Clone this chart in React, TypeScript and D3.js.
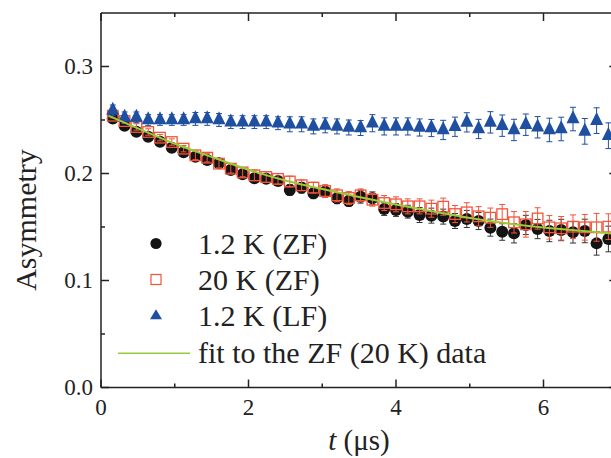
import React from "react";
import * as d3 from "d3";

// time bins (µs)
const tValues = [
  0.16, 0.32, 0.48, 0.64, 0.80, 0.96, 1.12, 1.28, 1.44, 1.60, 1.76, 1.92, 2.08, 2.24, 2.40,
  2.56, 2.72, 2.88, 3.04, 3.20, 3.36, 3.52, 3.68, 3.84, 4.00, 4.16, 4.32, 4.48, 4.64, 4.80,
  4.96, 5.12, 5.28, 5.44, 5.60, 5.76, 5.92, 6.08, 6.24, 6.40, 6.56, 6.72, 6.88,
];

// 1.2 K (ZF)
const zf12 = [
  0.2515, 0.2447, 0.2391, 0.2344, 0.2297, 0.2241, 0.2198, 0.2157, 0.2126, 0.2095, 0.2033, 0.1993, 0.1955, 0.1950, 0.1930,
  0.1846, 0.1867, 0.1815, 0.1830, 0.1768, 0.1743, 0.1783, 0.1768, 0.1668, 0.1659, 0.1643, 0.1612, 0.1606, 0.1597, 0.1556,
  0.1575, 0.1556, 0.1494, 0.1456, 0.1441, 0.1519, 0.1481, 0.1463, 0.1472, 0.1450, 0.1463, 0.1347, 0.1388,
];
const zf12Err = [
  0.002, 0.002, 0.002, 0.003, 0.003, 0.003, 0.003, 0.003, 0.003, 0.004, 0.004, 0.004, 0.004, 0.004, 0.004,
  0.005, 0.005, 0.005, 0.005, 0.005, 0.005, 0.006, 0.006, 0.006, 0.006, 0.006, 0.007, 0.007, 0.007, 0.007,
  0.008, 0.008, 0.008, 0.008, 0.009, 0.009, 0.009, 0.010, 0.010, 0.010, 0.011, 0.011, 0.012,
];

// 20 K (ZF)
const zf20 = [
  0.2540, 0.2490, 0.2435, 0.2388, 0.2335, 0.2294, 0.2232, 0.2170, 0.2148, 0.2092, 0.2045, 0.2010, 0.1983, 0.1967, 0.1950,
  0.1925, 0.1890, 0.1868, 0.1836, 0.1796, 0.1771, 0.1796, 0.1755, 0.1724, 0.1712, 0.1693, 0.1693, 0.1671, 0.1690, 0.1621,
  0.1637, 0.1600, 0.1587, 0.1620, 0.1544, 0.1525, 0.1580, 0.1497, 0.1488, 0.1503, 0.1497, 0.1497, 0.1503,
];
const zf20Err = [
  0.002, 0.002, 0.003, 0.003, 0.003, 0.003, 0.003, 0.004, 0.004, 0.004, 0.004, 0.004, 0.005, 0.005, 0.005,
  0.005, 0.005, 0.005, 0.006, 0.006, 0.006, 0.006, 0.006, 0.007, 0.007, 0.007, 0.007, 0.008, 0.008, 0.008,
  0.009, 0.009, 0.009, 0.009, 0.010, 0.012, 0.010, 0.011, 0.011, 0.011, 0.012, 0.013, 0.012,
];

// 1.2 K (LF)
const lf12 = [
  0.2590, 0.2525, 0.2525, 0.2500, 0.2500, 0.2500, 0.2500, 0.2510, 0.2510, 0.2500, 0.2480, 0.2480, 0.2480, 0.2480, 0.2470,
  0.2460, 0.2460, 0.2440, 0.2450, 0.2440, 0.2430, 0.2425, 0.2470, 0.2440, 0.2440, 0.2440, 0.2430, 0.2425, 0.2407, 0.2437,
  0.2478, 0.2416, 0.2478, 0.2447, 0.2407, 0.2456, 0.2432, 0.2407, 0.2416, 0.2509, 0.2394, 0.2494, 0.2353,
];
const lf12Err = [
  0.005, 0.005, 0.005, 0.005, 0.005, 0.005, 0.005, 0.006, 0.006, 0.006, 0.006, 0.006, 0.006, 0.006, 0.006,
  0.007, 0.007, 0.007, 0.007, 0.007, 0.007, 0.007, 0.008, 0.008, 0.008, 0.008, 0.008, 0.008, 0.009, 0.009,
  0.009, 0.009, 0.010, 0.010, 0.010, 0.010, 0.010, 0.011, 0.011, 0.011, 0.012, 0.012, 0.012,
];

// fit to the ZF (20 K) data
const fitT = [0.1, 0.5, 1.0, 1.5, 2.0, 2.5, 3.0, 3.5, 4.0, 4.5, 5.0, 5.5, 6.0, 6.5, 7.0];
const fitY = [0.254, 0.2422, 0.2278, 0.2155, 0.2035, 0.1935, 0.1855, 0.178, 0.171, 0.1645, 0.1585, 0.1535, 0.1495, 0.1465, 0.1435];

const xMajor = [0, 2, 4, 6];
const xMinor = [1, 3, 5, 7];
const yMajor = [0, 0.1, 0.2, 0.3];
const yMinor = [0.05, 0.15, 0.25];

const legendLabels = ["1.2 K (ZF)", "20 K (ZF)", "1.2 K (LF)", "fit to the ZF (20 K) data"];

const W = 611;
const H = 458;
const FONT = "Liberation Serif, Times New Roman, DejaVu Serif, serif";
const C_BLACK = "#141414";
const C_RED = "#f2553a";
const C_BLUE = "#1f4fa0";
const C_GREEN = "#96cb3a";
const TXT = { fontFamily: FONT } as const;

export default function App() {
  const x = d3.scaleLinear().domain([0, 7]).range([101, 617.25]);
  const y = d3.scaleLinear().domain([0, 0.35]).range([387.5, 13]);
  const x0 = x.range()[0];
  const x1 = x.range()[1];
  const y0 = y.range()[0];
  const y1 = y.range()[1];

  const fitLine = d3
    .line<number>()
    .x((_, i) => x(fitT[i]))
    .y((d) => y(d))
    .curve(d3.curveMonotoneX);

  const tri = (w: number, h: number) =>
    `M0,${-(2 * h) / 3}L${w / 2},${h / 3}L${-w / 2},${h / 3}Z`;

  const errBars = (vals: number[], errs: number[], color: string, cap: number) =>
    vals.map((v, i) => {
      const cx = x(tValues[i]);
      const yt = y(v + errs[i]);
      const yb = y(v - errs[i]);
      return (
        <g key={i} stroke={color} strokeWidth={1}>
          <line x1={cx} x2={cx} y1={yt} y2={yb} />
          <line x1={cx - cap} x2={cx + cap} y1={yt} y2={yt} />
          <line x1={cx - cap} x2={cx + cap} y1={yb} y2={yb} />
        </g>
      );
    });

  const legendRows = [243.5, 279.5, 316, 353.3];

  return (
    <svg
      width={W}
      height={H}
      style={{ position: "absolute", left: 0, top: 0, background: "#fff", fontFamily: FONT }}
    >
      <rect x={0} y={0} width={W} height={H} fill="#fff" />

      {/* data: 1.2 K ZF */}
      <g>{errBars(zf12, zf12Err, "#333", 3)}</g>
      <g>
        {zf12.map((v, i) => (
          <circle key={i} cx={x(tValues[i])} cy={y(v)} r={6} fill={C_BLACK} />
        ))}
      </g>

      {/* data: 20 K ZF */}
      <g>{errBars(zf20, zf20Err, C_RED, 3)}</g>
      <g>
        {zf20.map((v, i) => (
          <rect
            key={i}
            x={x(tValues[i]) - 5.3}
            y={y(v) - 5.3}
            width={10.6}
            height={10.6}
            fill="none"
            stroke={C_RED}
            strokeWidth={1.3}
          />
        ))}
      </g>

      {/* data: 1.2 K LF */}
      <g>{errBars(lf12, lf12Err, C_BLUE, 3)}</g>
      <g>
        {lf12.map((v, i) => (
          <path
            key={i}
            d={tri(13, 13)}
            transform={`translate(${x(tValues[i])},${y(v)})`}
            fill={C_BLUE}
          />
        ))}
      </g>

      {/* fit */}
      <path d={fitLine(fitY) || ""} fill="none" stroke={C_GREEN} strokeWidth={2} />

      {/* frame */}
      <g stroke="#222" strokeWidth={1.5} fill="none">
        <line x1={x0} x2={x1} y1={y0} y2={y0} />
        <line x1={x0} x2={x1} y1={y1} y2={y1} />
        <line x1={x0} x2={x0} y1={y0} y2={y1} />
        <line x1={x1} x2={x1} y1={y0} y2={y1} />
        {xMajor.map((t) => (
          <g key={"xM" + t}>
            <line x1={x(t)} x2={x(t)} y1={y0} y2={y0 - 8} />
            <line x1={x(t)} x2={x(t)} y1={y1} y2={y1 + 8} />
          </g>
        ))}
        {xMinor.map((t) => (
          <g key={"xm" + t}>
            <line x1={x(t)} x2={x(t)} y1={y0} y2={y0 - 4} />
            <line x1={x(t)} x2={x(t)} y1={y1} y2={y1 + 4} />
          </g>
        ))}
        {yMajor.map((v) => (
          <g key={"yM" + v}>
            <line x1={x0} x2={x0 + 8} y1={y(v)} y2={y(v)} />
            <line x1={x1} x2={x1 - 8} y1={y(v)} y2={y(v)} />
          </g>
        ))}
        {yMinor.map((v) => (
          <g key={"ym" + v}>
            <line x1={x0} x2={x0 + 4} y1={y(v)} y2={y(v)} />
            <line x1={x1} x2={x1 - 4} y1={y(v)} y2={y(v)} />
          </g>
        ))}
      </g>

      {/* tick labels */}
      <g fontSize={23} fill="#222">
        {xMajor.map((t) => (
          <text key={"xl" + t} x={x(t)} y={415} textAnchor="middle" style={TXT}>
            {d3.format("d")(t)}
          </text>
        ))}
        {yMajor.map((v) => (
          <text key={"yl" + v} x={93} y={y(v) + 7.5} textAnchor="end" style={TXT}>
            {d3.format(".1f")(v)}
          </text>
        ))}
      </g>

      {/* axis titles */}
      <text x={359} y={450} fontSize={29} textAnchor="middle" fill="#222" style={TXT}>
        <tspan fontStyle="italic">t</tspan> (μs)
      </text>
      <text
        transform={`translate(36,220) rotate(-90)`}
        fontSize={30}
        textAnchor="middle"
        fill="#222"
        style={TXT}
      >
        Asymmetry
      </text>

      {/* legend */}
      <g>
        <circle cx={156} cy={legendRows[0]} r={5.6} fill={C_BLACK} />
        <rect
          x={151}
          y={legendRows[1] - 5}
          width={10}
          height={10}
          fill="none"
          stroke={C_RED}
          strokeWidth={1.2}
        />
        <path d={tri(12, 10)} transform={`translate(156,${legendRows[2]})`} fill={C_BLUE} />
        <line x1={118} x2={190} y1={legendRows[3]} y2={legendRows[3]} stroke={C_GREEN} strokeWidth={1.5} />
        {legendLabels.map((s, i) => (
          <text key={s} x={198} y={legendRows[i] + 10} fontSize={30} fill="#222" style={TXT}>
            {s}
          </text>
        ))}
      </g>
    </svg>
  );
}
